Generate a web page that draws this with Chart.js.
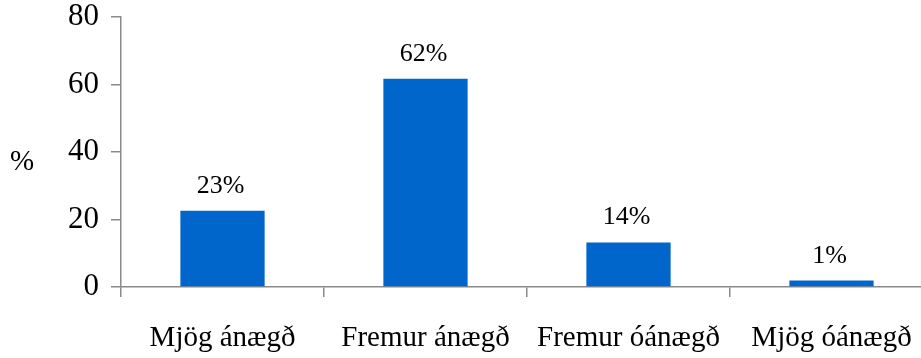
<!DOCTYPE html>
<html>
<head>
<meta charset="utf-8">
<script src="https://cdn.jsdelivr.net/npm/chart.js@4"></script>
<style>
  html, body { margin: 0; padding: 0; background: #fff; overflow: hidden; }
  .wrap { width: 921px; height: 358px; overflow: hidden; position: relative; }
  .wrap canvas { position: absolute; left: 0; top: 0; }
</style>
</head>
<body>
<div class="wrap">
  <canvas id="bars" width="933" height="358"></canvas>
</div>
<script>
const categories = ["Mjög ánægð", "Fremur ánægð", "Fremur óánægð", "Mjög óánægð"];
const values = [22.6, 61.7, 13.2, 1.9];
const valueLabels = ["23%", "62%", "14%", "1%"];
const yTicks = [0, 20, 40, 60, 80];

const serif = "'Liberation Serif', 'Times New Roman', serif";
const axisGrey = "#8a8a8a";

// labels above bars plus the "%" axis title
const barLabels = {
  id: "barLabels",
  afterDatasetsDraw(chart) {
    const ctx = chart.ctx;
    const meta = chart.getDatasetMeta(0);
    ctx.save();
    ctx.fillStyle = "#000";
    ctx.font = "26px " + serif;
    ctx.textAlign = "center";
    ctx.textBaseline = "alphabetic";
    meta.data.forEach((bar, i) => {
      ctx.fillText(valueLabels[i], bar.x - 2, bar.y - 18);
    });
    const area = chart.chartArea;
    ctx.font = "29px " + serif;
    ctx.textAlign = "left";
    ctx.fillText("%", 10, (area.top + area.bottom) / 2 + 18);
    ctx.restore();
  },
};

const canvas = document.querySelector("#bars");
new Chart(canvas, {
  type: "bar",
  data: {
    labels: categories,
    datasets: [
      {
        data: values,
        backgroundColor: "#0066CC",
        borderWidth: 0,
        barPercentage: 0.415,
        categoryPercentage: 1,
      },
    ],
  },
  options: {
    responsive: false,
    animation: false,
    layout: { padding: { top: 17, right: 0, bottom: 0, left: 0 } },
    plugins: { legend: { display: false }, tooltip: { enabled: false } },
    scales: {
      x: {
        offset: true,
        grid: {
          offset: true,
          drawOnChartArea: false,
          drawTicks: true,
          tickLength: 10,
          color: axisGrey,
          lineWidth: 1.5,
        },
        border: { color: axisGrey, width: 1.5 },
        ticks: {
          color: "#000",
          font: { family: serif, size: 29 },
          padding: 24,
          maxRotation: 0,
          autoSkip: false,
        },
        afterFit(scale) {
          scale.height = 71;
          scale.paddingLeft = 0;
          scale.paddingRight = 0;
        },
      },
      y: {
        min: 0,
        max: 80,
        afterBuildTicks(scale) {
          scale.ticks = yTicks.map((v) => ({ value: v }));
        },
        grid: {
          drawOnChartArea: false,
          drawTicks: true,
          tickLength: 10,
          color: axisGrey,
          lineWidth: 1.5,
        },
        border: { color: axisGrey, width: 1.5 },
        ticks: {
          color: "#000",
          font: { family: serif, size: 31 },
          padding: 12,
        },
        afterFit(scale) {
          scale.width = 121;
          scale.paddingTop = 0;
          scale.paddingBottom = 0;
        },
      },
    },
  },
  plugins: [barLabels],
});
</script>
</body>
</html>
